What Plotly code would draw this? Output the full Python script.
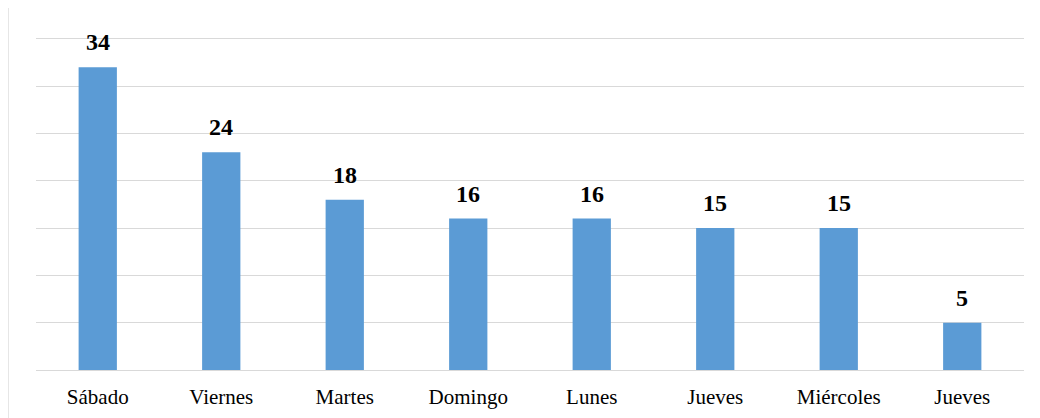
import plotly.graph_objects as go

categories = ["Sábado", "Viernes", "Martes", "Domingo", "Lunes", "Jueves", "Miércoles", "Jueves"]
# bar heights as drawn in the picture (gridlines every 5 units)
values = [32, 23, 18, 16, 16, 15, 15, 5]
# data labels printed above the bars
labels = [34, 24, 18, 16, 16, 15, 15, 5]
positions = list(range(len(categories)))

BAR_COLOR = "#5b9bd5"
GRID = "#d9d9d9"
FONT = "Liberation Serif"

fig = go.Figure()
fig.add_trace(go.Bar(
    x=positions, y=values, width=0.31,
    marker=dict(color=BAR_COLOR, line=dict(width=0)),
    hoverinfo="skip",
))

for xi, v, lab in zip(positions, values, labels):
    fig.add_annotation(
        x=xi, y=v, text=f"<b>{lab}</b>", showarrow=False,
        yanchor="bottom", yshift=10,
        font=dict(family=FONT, size=24, color="#000000"),
    )

fig.add_shape(type="rect", xref="paper", yref="paper",
              x0=-28/988, x1=1.2, y0=-0.3, y1=1 + 34/336,
              line=dict(color=GRID, width=1.3), fillcolor="rgba(0,0,0,0)", layer="below")

fig.update_layout(
    width=1032, height=410,
    margin=dict(l=28, r=16, t=26, b=48, autoexpand=False),
    paper_bgcolor="white", plot_bgcolor="white",
    showlegend=False,
    font=dict(family=FONT, size=21, color="#000000"),
    xaxis=dict(
        range=[-0.5, 7.5], tickmode="array", tickvals=positions, ticktext=categories,
        showgrid=False, zeroline=False, showline=False, ticks="",
        ticklabelstandoff=12, automargin=False,
        tickfont=dict(family=FONT, size=21, color="#000000"),
    ),
    yaxis=dict(
        range=[0, 35.5], dtick=5, tick0=0, showticklabels=False, automargin=False,
        showgrid=True, gridcolor=GRID, gridwidth=1.3,
        zeroline=True, zerolinecolor=GRID, zerolinewidth=1.3, showline=False, ticks="",
    ),
)

fig.write_html("out.html")
